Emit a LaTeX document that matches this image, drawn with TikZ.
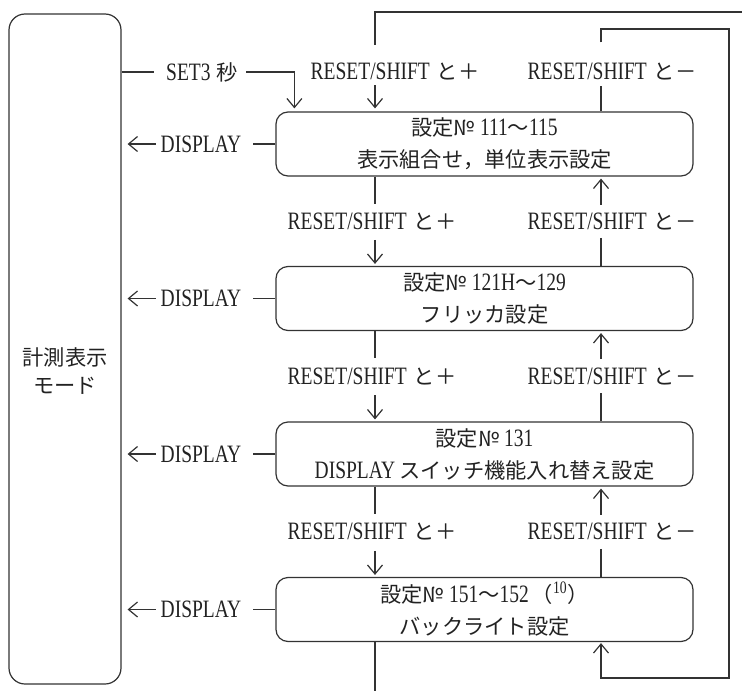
\documentclass[tikz,border=0pt]{standalone}
\usepackage{fontspec}
\setmainfont{Liberation Serif}[FakeStretch=0.78]
\newfontfamily\cjk{Noto Sans CJK JP}[Scale=0.85]
\newcommand\JP[1]{{\cjk #1}}
\newcommand\fsz{\fontsize{25}{32}\selectfont}
\usetikzlibrary{arrows.meta,calc}
\definecolor{ink}{HTML}{333333}
\definecolor{txt}{HTML}{222222}
\begin{document}
\begin{tikzpicture}[x=1pt,y=-1pt,
  ln/.style={draw=ink,line width=1.2pt},
  arr/.style={ln,-{Straight Barb[length=9pt,width=15pt,line width=1.2pt]}},
  box/.style={ln,rounded corners=12pt,minimum width=417pt,minimum height=64pt,
    align=center,inner sep=0pt,font=\fsz,text=txt},
  lbl/.style={inner sep=0pt,font=\fsz,text=txt,align=center}]
\useasboundingbox (0,0) rectangle (742,691);
\coordinate (L) at (375,0);
\coordinate (R) at (601,0);
% mode box
\node[ln,rounded corners=16pt,minimum width=112pt,minimum height=670pt,inner sep=0pt] (mode) at (65,349) {};
\node[lbl,font=\fontsize{25}{28}\selectfont] (modet) at (65,371) {\JP{計測表示}\\\JP{モード}};
% setting boxes
\node[box] (b1) at (484.5,144) {\JP{設定№}\hspace{5pt}111\JP{～}115\\\JP{表示組合せ，単位表示設定}};
\node[box] (b2) at (484.5,298.5) {\JP{設定№}\hspace{5pt}121H\JP{～}129\\\JP{フリッカ設定}};
\node[box] (b3) at (484.5,454) {\JP{設定№}\hspace{5pt}131\\DISPLAY\hspace{4pt}\JP{スイッチ機能入れ替え設定}};
\node[box] (b4) at (484.5,609.5) {\JP{設定№}\hspace{5pt}151\JP{～}152\hspace{3pt}\JP{（}\textsuperscript{10}\JP{）}\\\JP{バックライト設定}};
% DISPLAY returns
\foreach \b/\d in {b1/d1,b2/d2,b3/d3,b4/d4}{
  \node[lbl] (\d) at ($(\b.center -| 0,0)+(201,0)$) {DISPLAY};
  \draw[ln,shorten >=12pt] (\b.west) -- (\d.east);
  \draw[arr,shorten <=5pt,shorten >=6pt] (\d.west) -- (\d.west -| mode.east);
}
% SET3
\node[lbl] (set3) at (202,72) {SET3\hspace{6pt}\JP{秒}};
\coordinate (in1) at ($(b1.north west)+(19,0)$);
\draw[ln,shorten >=12pt] (mode.east |- set3) -- (set3.west);
\draw[arr,shorten <=8pt,shorten >=3pt] (set3.east) -| (in1);
% top labels
\node[lbl] (tp) at (395,72) {RESET/SHIFT\hspace{7pt}\JP{と＋}};
\node[lbl] (tm) at (612,72) {RESET/SHIFT\hspace{7pt}\JP{と－}};
\coordinate (tl) at (375,12);
\coordinate (tr) at (742,12);
\draw[ln] (tr) -- (tl) -- ($(tl)+(0,33)$);
\draw[arr,shorten >=3pt] ($(b1.north -| L)+(0,-26)$) -- (b1.north -| L);
\draw[ln] (b1.north -| R) -- ($(b1.north -| R)+(0,-25)$);
\coordinate (rt) at (729,29);
\coordinate (rb) at (729,678);
\draw[arr,shorten >=1pt] ($(b1.north -| R)+(0,-69)$) |- (rt) -- (rb) -| (b4.south -| R);
% middle connectors
\foreach \u/\v/\p/\m in {b1/b2/p1/m1,b2/b3/p2/m2,b3/b4/p3/m3}{
  \node[lbl] (\p) at ($(\u.south -| L)+(-3,45)$) {RESET/SHIFT\hspace{7pt}\JP{と＋}};
  \node[lbl] (\m) at ($(\u.south -| R)+(11,45)$) {RESET/SHIFT\hspace{7pt}\JP{と－}};
  \draw[ln] (\u.south -| L) -- ($(\u.south -| L)+(0,27)$);
  \draw[arr,shorten >=2pt] ($(\v.north -| L)+(0,-26)$) -- (\v.north -| L);
  \draw[arr,shorten >=2pt] ($(\u.south -| R)+(0,28)$) -- (\u.south -| R);
  \draw[ln] ($(\v.north -| R)+(0,-28)$) -- (\v.north -| R);
}
% bottom exit
\draw[ln] (b4.south -| L) -- ($(b4.south -| L)+(0,49)$);
\end{tikzpicture}
\end{document}
